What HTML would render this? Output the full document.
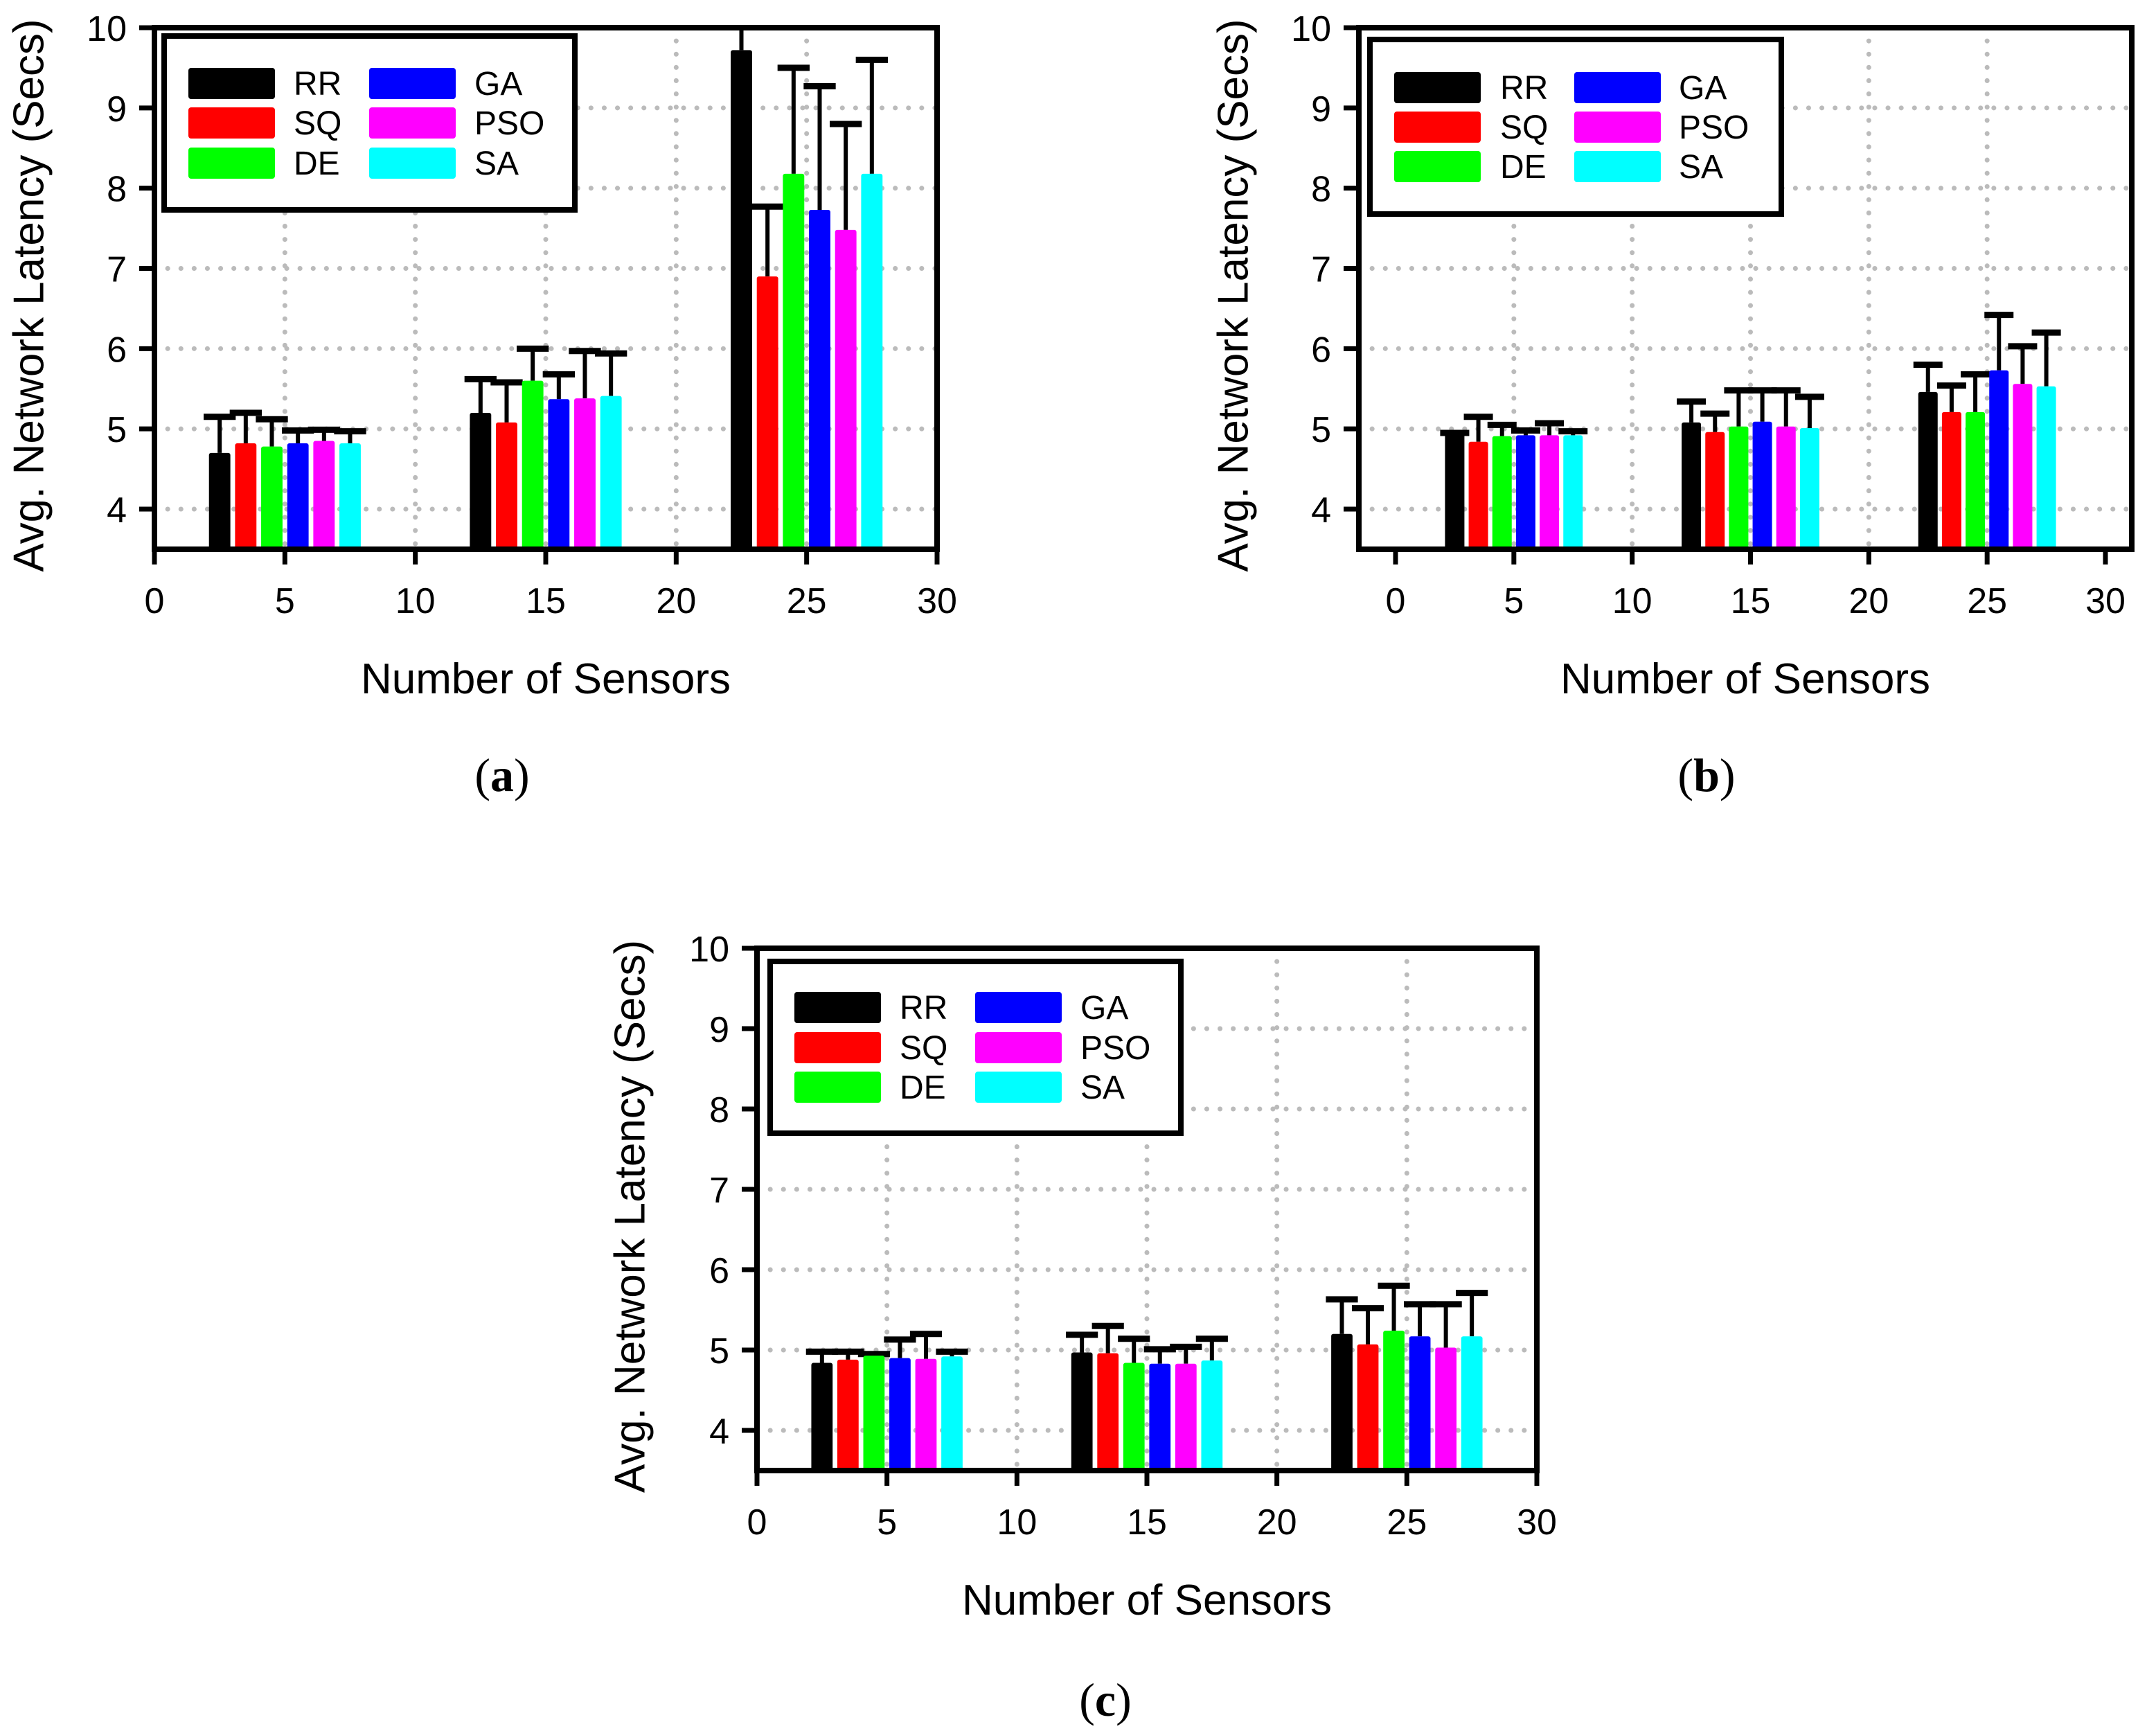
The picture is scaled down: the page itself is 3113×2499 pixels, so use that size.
<!DOCTYPE html>
<html><head><meta charset="utf-8">
<style>
html,body{margin:0;padding:0;background:#fff;}
svg{display:block;}
text{font-family:"Liberation Sans",sans-serif;fill:#000;}
.cap{font-family:"Liberation Serif",serif;}
</style></head>
<body>
<svg id="fig" width="3113" height="2499" viewBox="0 0 3113 2499" xmlns="http://www.w3.org/2000/svg"></svg>
<script>
const series = ["RR","SQ","DE","GA","PSO","SA"];
const colors = ["#000000","#ff0000","#00ff00","#0000ff","#ff00ff","#00ffff"];
const groups = [5,15,25];
const xTicks = [0,5,10,15,20,25,30];
const yTicks = [4,5,6,7,8,9,10];
// panel (a)
const aMeans = [[4.70,4.82,4.78,4.82,4.85,4.82],[5.20,5.08,5.60,5.37,5.38,5.41],[9.72,6.90,8.18,7.73,7.48,8.18]];
const aTops  = [[5.15,5.20,5.12,4.98,4.99,4.97],[5.62,5.58,6.00,5.68,5.97,5.94],[10.3,7.77,9.50,9.27,8.80,9.60]];
// panel (b)
const bMeans = [[4.94,4.84,4.91,4.92,4.92,4.92],[5.08,4.96,5.03,5.09,5.03,5.01],[5.46,5.21,5.21,5.73,5.56,5.53]];
const bTops  = [[4.95,5.15,5.05,4.98,5.07,4.97],[5.34,5.19,5.48,5.48,5.48,5.40],[5.80,5.54,5.68,6.42,6.03,6.20]];
// panel (c)
const cMeans = [[4.84,4.88,4.93,4.90,4.89,4.92],[4.97,4.96,4.84,4.83,4.83,4.87],[5.20,5.07,5.24,5.17,5.03,5.17]];
const cTops  = [[4.98,4.98,4.95,5.13,5.20,4.98],[5.19,5.30,5.14,5.01,5.04,5.14],[5.63,5.52,5.80,5.57,5.57,5.71]];

const NS="http://www.w3.org/2000/svg";
const svg=document.getElementById('fig');
function mk(tag,attrs,parent){const e=document.createElementNS(NS,tag);for(const k in attrs)e.setAttribute(k,attrs[k]);(parent||svg).appendChild(e);return e;}

function panel(cfg,means,tops){
  const g=mk('g',{});
  
  
  const X=v=>cfg.x0+(v-0)*(cfg.x30-cfg.x0)/30;
  const Y=v=>cfg.y4-(v-4)*(cfg.y4-cfg.y10)/6;
  const yb=Y(3.5);
  const unit=(cfg.x30-cfg.x0)/30;
  const grid=mk('g',{stroke:'#bbbbbb','stroke-width':7,'stroke-dasharray':'0.1 19','stroke-linecap':'round'},g);
  
  
  xTicks.forEach(t=>{ if(t>0&&t<30){const l=mk('line',{x1:X(t),x2:X(t),y1:cfg.y10,y2:yb},grid);}});
  yTicks.forEach(t=>{ if(t<10){const l=mk('line',{x1:cfg.left,x2:cfg.right,y1:Y(t),y2:Y(t)},grid);}});
  const cid='clip'+cfg.id;
  const cp=mk('clipPath',{id:cid},g);
  mk('rect',{x:cfg.left,y:cfg.y10,width:cfg.right-cfg.left,height:yb-cfg.y10},cp);
  const bars=mk('g',{'clip-path':'url(#'+cid+')'},g);
  
  
  const bw=unit*0.82;
  groups.forEach((gx,gi)=>{
    series.forEach((s,si)=>{
      const cx=X(gx-2.5+si);
      const top=Y(tops[gi][si]);
      const el=mk('line',{x1:cx,x2:cx,y1:Y(means[gi][si]),y2:top,stroke:'#000','stroke-width':6},bars);
      
      
      const ec=mk('line',{x1:cx-bw*0.75,x2:cx+bw*0.75,y1:top,y2:top,stroke:'#000','stroke-width':9},bars);
      
      
      const r=mk('rect',{x:cx-bw/2,y:Y(means[gi][si]),width:bw,height:yb-Y(means[gi][si]),fill:colors[si],rx:3},bars);
      
      
    });
  });
  const fr=mk('rect',{x:cfg.left,y:cfg.y10,width:cfg.right-cfg.left,height:yb-cfg.y10,fill:'none',stroke:'#000','stroke-width':8},g);
  
  
  xTicks.forEach(t=>{
    const l=mk('line',{x1:X(t),x2:X(t),y1:yb,y2:yb+22,stroke:'#000','stroke-width':7},g);
    
    
    const tx=mk('text',{x:X(t),y:yb+92,'text-anchor':'middle','font-size':52},g);
    tx.textContent=t;
    
    
  });
  yTicks.forEach(t=>{
    const l=mk('line',{x1:cfg.left-22,x2:cfg.left,y1:Y(t),y2:Y(t),stroke:'#000','stroke-width':7},g);
    
    
    const tx=mk('text',{x:cfg.left-40,y:Y(t)+19,'text-anchor':'end','font-size':52},g);
    tx.textContent=t;
    
    
  });
  const xt=mk('text',{x:(cfg.left+cfg.right)/2,y:yb+208,'text-anchor':'middle','font-size':62},g);
  xt.textContent='Number of Sensors';
  
  
  const yc=cfg.ytx, ycy=(cfg.y10+yb)/2+10;
  const yt=mk('text',{x:yc,y:ycy,'text-anchor':'middle','font-size':62,transform:'rotate(-90 '+yc+' '+ycy+')','dominant-baseline':'central'},g);
  yt.textContent='Avg. Network Latency (Secs)';
  
  
  const L=cfg.leg;
  const lg=mk('g',{},g);
  
  
  mk('rect',{x:L.x,y:L.y,width:L.w,height:L.h,fill:'#fff',stroke:'#000','stroke-width':8},lg);
  series.forEach((s,si)=>{
    const col=Math.floor(si/3), row=si%3;
    const sx=col?L.s2:L.s1, tx=col?L.t2:L.t1, ry=L.r[row];
    const sw=mk('rect',{x:sx,y:ry-22,width:125,height:45,fill:colors[si],rx:4},lg);
    
    
    const t=mk('text',{x:tx,y:ry+17,'font-size':48},lg);
    t.textContent=s;
    
    
  });
  const c=mk('text',{x:cfg.capx,y:cfg.capy,'text-anchor':'middle','font-size':68,class:'cap'},g);
  c.innerHTML='(<tspan font-weight="bold">'+cfg.id+'</tspan>)';
  
  
}

panel({id:'a',x0:223,x30:1353,left:223,right:1353,y10:40,y4:735,ytx:42,capx:725,capy:1142,
  leg:{x:237,y:52,w:593,h:251,s1:272,s2:533,t1:424,t2:685,r:[120,177,235]}},aMeans,aTops);
panel({id:'b',x0:2015,x30:3040,left:1962,right:3078,y10:40,y4:735,ytx:1781,capx:2464,capy:1142,
  leg:{x:1978,y:57,w:594,h:252,s1:2013,s2:2273,t1:2166,t2:2424,r:[126,183,240]}},bMeans,bTops);
panel({id:'c',x0:1093,x30:2219,left:1093,right:2219,y10:1369,y4:2065,ytx:910,capx:1596,capy:2477,
  leg:{x:1112,y:1388,w:593,h:248,s1:1147,s2:1408,t1:1299,t2:1560,r:[1454,1512,1569]}},cMeans,cTops);
</script>
</body></html>
